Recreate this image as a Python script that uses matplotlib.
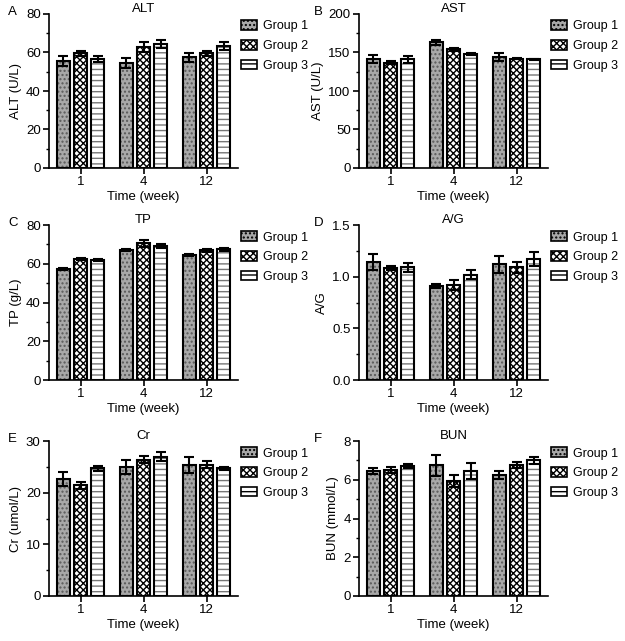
import numpy as np
import matplotlib
matplotlib.use("Agg")
import matplotlib.pyplot as plt
from matplotlib.patches import Patch
from matplotlib.ticker import AutoMinorLocator

weeks = ["1", "4", "12"]
groups = ["Group 1", "Group 2", "Group 3"]

# valores medios y error por panel (filas = grupo, columnas = semana)
alt_mean = [[55.5, 54.5, 57.5], [59.5, 63.0, 59.5], [56.5, 64.5, 63.5]]
alt_err = [[2.5, 2.5, 2.2], [1.5, 2.5, 1.5], [1.5, 2.0, 2.0]]
ast_mean = [[142, 163, 144], [137, 154, 142], [141, 148, 141]]
ast_err = [[5, 3, 5], [2, 2, 1], [5, 1, 1]]
tp_mean = [[57.5, 67.0, 64.5], [62.5, 70.5, 67.0], [62.0, 69.0, 67.5]]
tp_err = [[0.5, 0.5, 0.7], [0.5, 2.0, 0.7], [0.5, 1.0, 0.8]]
ag_mean = [[1.14, 0.91, 1.12], [1.08, 0.92, 1.09], [1.09, 1.02, 1.17]]
ag_err = [[0.08, 0.02, 0.08], [0.02, 0.05, 0.05], [0.04, 0.04, 0.07]]
cr_mean = [[22.6, 25.0, 25.4], [21.4, 26.4, 25.4], [24.7, 27.0, 24.7]]
cr_err = [[1.4, 1.3, 1.5], [0.7, 0.7, 0.7], [0.5, 0.8, 0.3]]
bun_mean = [[6.45, 6.75, 6.25], [6.5, 5.95, 6.75], [6.7, 6.45, 7.0]]
bun_err = [[0.15, 0.55, 0.2], [0.15, 0.3, 0.15], [0.1, 0.4, 0.2]]

paneles = [
    ("A", "ALT", "ALT (U/L)", alt_mean, alt_err, 80, 20),
    ("B", "AST", "AST (U/L)", ast_mean, ast_err, 200, 50),
    ("C", "TP", "TP (g/L)", tp_mean, tp_err, 80, 20),
    ("D", "A/G", "A/G", ag_mean, ag_err, 1.5, 0.5),
    ("E", "Cr", "Cr (umol/L)", cr_mean, cr_err, 30, 10),
    ("F", "BUN", "BUN (mmol/L)", bun_mean, bun_err, 8, 2),
]

# estilos de relleno para cada grupo: (fondo, trama, color de trama)
estilos = [
    ("#a8a8a8", "....", "#5a5a5a"),
    ("white", "xxxxx", "black"),
    ("white", "---", "#777777"),
]

plt.rcParams["font.family"] = "Liberation Sans"
plt.rcParams["hatch.linewidth"] = 1.0

W, H = 625, 641
fig = plt.figure(figsize=(W / 100, H / 100), dpi=100)

cols = [49, 359]
rows = [(14, 168), (225, 380), (441, 596)]
ancho = 189

x = np.arange(1, len(weeks) + 1)
bw = 0.21
paso = 0.27
fs = 9.5

for i, (letra, titulo, ylab, medias, errores, ymax, ystep) in enumerate(paneles):
    fila, col = divmod(i, 2)
    top, bot = rows[fila]
    left = cols[col]
    ax = fig.add_axes([left / W, 1 - bot / H, ancho / W, (bot - top) / H])

    for g in range(3):
        fc, hatch, hc = estilos[g]
        pos = x + (g - 1) * paso
        ax.bar(pos, medias[g], bw, color=fc, hatch=hatch, edgecolor=hc, linewidth=0, zorder=2)
        ax.bar(pos, medias[g], bw, fill=False, edgecolor="black", linewidth=1.5, zorder=3)
        ax.errorbar(pos, medias[g], yerr=errores[g], fmt="none", ecolor="black",
                    elinewidth=1.5, capsize=3.5, capthick=1.5, zorder=4)

    ax.set_xlim(0.5, 3.5)
    ax.set_ylim(0, ymax)
    ax.set_yticks(np.arange(0, ymax + ystep / 2, ystep))
    if ystep < 1:
        ax.set_yticklabels([f"{v:.1f}" for v in np.arange(0, ymax + ystep / 2, ystep)])
    ax.yaxis.set_minor_locator(AutoMinorLocator(2))
    ax.set_xticks(x)
    ax.set_xticklabels(weeks)
    for s in ["top", "right"]:
        ax.spines[s].set_visible(False)
    for s in ["left", "bottom"]:
        ax.spines[s].set_linewidth(1.2)
    ax.tick_params(axis="both", which="major", labelsize=fs, width=1.2, length=4, pad=2)
    ax.tick_params(axis="y", which="minor", width=1.0, length=2.5)
    ax.set_xlabel("Time (week)", fontsize=fs, labelpad=2)
    ax.set_ylabel(ylab, fontsize=fs, labelpad=3)
    # titulo un poco mas abajo, casi pegado al borde superior
    ax.text(0.5, 1.03, titulo, transform=ax.transAxes, fontsize=fs,
            ha="center", va="center")

    handles = [Patch(facecolor=estilos[g][0], hatch=estilos[g][1], edgecolor="black",
                     linewidth=1.2) for g in range(3)]
    ax.legend(handles, groups, loc="upper left", bbox_to_anchor=(1.0, 0.975),
              frameon=False, fontsize=9, handlelength=1.3, handleheight=0.8,
              labelspacing=0.6, handletextpad=0.5, borderaxespad=0.0, borderpad=0.2)

    lx = 8 if col == 0 else 314
    fig.text(lx / W, 1 - (top - 2) / H, letra, fontsize=fs, va="center", ha="left")

plt.savefig("out.png", dpi=100)
